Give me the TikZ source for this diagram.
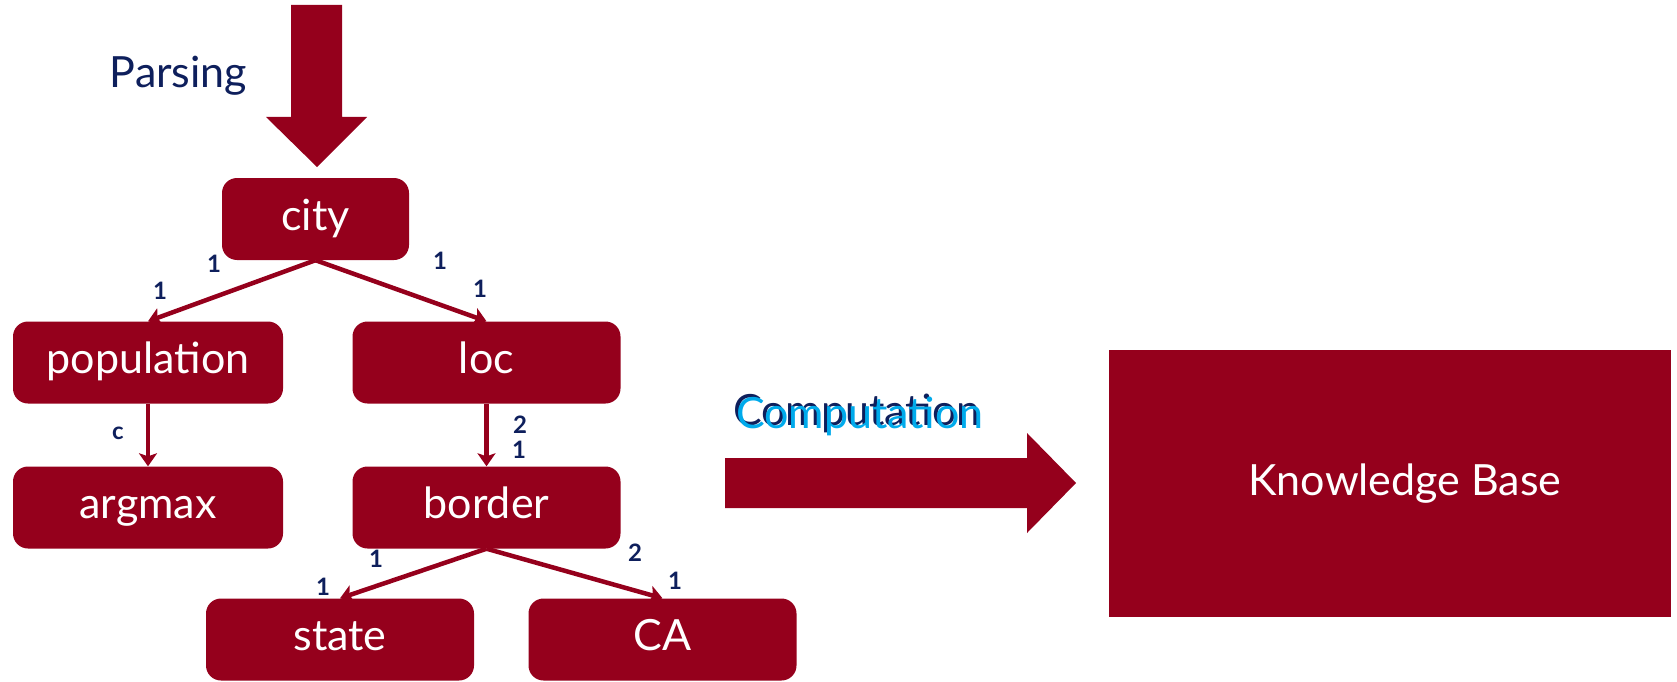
\documentclass[tikz,border=0pt]{standalone}
\usepackage{fontspec}
\setmainfont{Lato}
\usetikzlibrary{arrows.meta}
\definecolor{wine}{RGB}{149,0,28}
\definecolor{navy}{RGB}{14,31,92}
\definecolor{sky}{RGB}{0,170,235}
\begin{document}
\begin{tikzpicture}[x=1pt,y=-1pt,
  box/.style={fill=wine, rounded corners=15pt, text=white, inner sep=0pt,
    font=\fontsize{43}{50}\selectfont, text height=31pt, text depth=9pt,
    minimum width=268pt, minimum height=82pt},
  link/.style={draw=wine, line width=4.5pt,
    -{Stealth[length=13pt,width=18pt,inset=3pt]}},
  idx/.style={text=navy, inner sep=0pt, font=\fontsize{24}{26}\selectfont\bfseries},
  caption/.style={inner sep=0pt, font=\fontsize{43}{50}\selectfont}]
\useasboundingbox (0,0) rectangle (1677,682);

% parse tree
\node[box, minimum width=187pt] (city) at (315.5,219) {city};
\node[box, minimum width=270pt] (population) at (148,362.5) {population};
\node[box] (loc) at (486.5,362.5) {loc};
\node[box, minimum width=270pt] (argmax) at (148,507.5) {argmax};
\node[box] (border) at (486.5,507.5) {border};
\node[box] (state) at (340,639.5) {state};
\node[box] (ca) at (662.5,639.5) {CA};

\draw[link] (city.south) -- (population.north);
\draw[link] (city.south) -- (loc.north);
\draw[link] (population.south) -- (argmax.north);
\draw[link] (loc.south) -- (border.north);
\draw[link] (border.south) -- (state.north);
\draw[link] (border.south) -- (ca.north);

% argument indices
\node[idx] (i1) at (214,264) {1};
\node[idx] (i2) at (160,291) {1};
\node[idx] (i3) at (440,261) {1};
\node[idx] (i4) at (480,289) {1};
\node[idx] (i5) at (118,433) {c};
\node[idx] (i6) at (520,425) {2};
\node[idx] (i7) at (519,450) {1};
\node[idx] (i8) at (376,559) {1};
\node[idx] (i9) at (323,587) {1};
\node[idx] (i10) at (635,553) {2};
\node[idx] (i11) at (675,581) {1};

% parsing step
\fill[wine] (291,5) -- (342,5) -- (342,117) -- (367,117) -- (317,167)
  -- (266,117) -- (291,117) -- cycle;
\node[caption, text=navy, anchor=base] (parsing) at (178.5,88) {Parsing};

% computation step
\fill[wine] (725,458) -- (1027,458) -- (1027,433) -- (1076,483)
  -- (1027,533) -- (1027,508) -- (725,508) -- cycle;
\node[caption, text=navy, anchor=base west] (comp) at (733,425.5) {Computation};
\node[caption, text=sky, anchor=base west] (comphi) at (736,428) {Computation};

% knowledge base
\node[fill=wine, text=white, inner sep=0pt, minimum width=562pt,
  minimum height=267pt, font=\fontsize{43}{50}\selectfont]
  (kb) at (1390,483.5) {\hspace*{30pt}\raisebox{-5pt}{Knowledge Base}};
\end{tikzpicture}
\end{document}
